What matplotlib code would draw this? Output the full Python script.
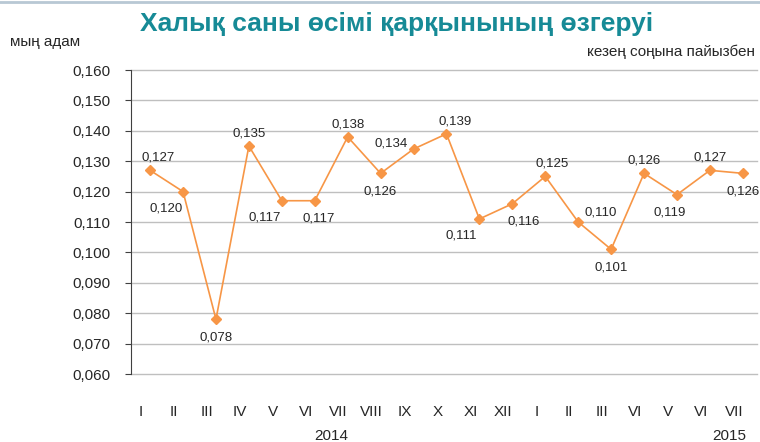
import matplotlib
matplotlib.use("Agg")
import matplotlib.pyplot as plt
import matplotlib.transforms as mtrans
from matplotlib.ticker import MultipleLocator, FuncFormatter

plt.rcParams['font.family'] = ['Liberation Sans', 'DejaVu Sans']

# data
months = ['I', 'II', 'III', 'IV', 'V', 'VI', 'VII', 'VIII', 'IX', 'X', 'XI', 'XII',
          'I', 'II', 'III', 'VI', 'V', 'VI', 'VII']
values = [0.127, 0.120, 0.078, 0.135, 0.117, 0.117, 0.138, 0.126, 0.134, 0.139,
          0.111, 0.116, 0.125, 0.110, 0.101, 0.126, 0.119, 0.127, 0.126]
years = ['2014', '2015']
# where each data label sits: (dx, dy) in points
label_pos = [(6, 9), (-12, -12), (0, -13), (0, 9), (-12, -12), (3, -13), (0, 9),
             (0, -13), (-16, 4), (6, 9), (-13, -12), (8, -13), (5, 9), (16, 7),
             (0, -13), (0, 9), (-5, -13), (0, 9), (0, -13)]

orange = '#f79646'
teal = '#168a96'

fig = plt.figure(figsize=(7.6, 4.42), dpi=100)
ax = fig.add_axes([131 / 760, 1 - 374 / 442, (757 - 131) / 760, (374 - 70) / 442])

x = list(range(len(values)))
ax.plot(x, values, color=orange, lw=1.2, marker='D', ms=5.5, mec=orange, mfc=orange, zorder=3)

for i, v in enumerate(values):
    dx, dy = label_pos[i]
    ax.annotate(f'{v:.3f}'.replace('.', ','), (i, v), xytext=(dx, dy),
                textcoords='offset points', ha='center', va='center',
                fontsize=9.5, color='#262626')

ax.set_ylim(0.060, 0.160)
ax.set_xlim(-0.58, len(values) - 1 + 0.43)
ax.yaxis.set_major_locator(MultipleLocator(0.01))
ax.yaxis.set_major_formatter(FuncFormatter(lambda v, p: f'{v:.3f}'.replace('.', ',')))
ax.grid(axis='y', color='#bfbfbf', lw=1)
for gl in ax.get_ygridlines():
    gl.set_clip_on(False)
ax.set_axisbelow(True)

for s in ['top', 'right', 'bottom']:
    ax.spines[s].set_visible(False)
ax.spines['left'].set_color('#404040')
ax.tick_params(axis='y', length=4, color='#404040', labelsize=11, labelcolor='#262626', pad=11)
ax.tick_params(axis='x', length=0, labelsize=11, labelcolor='#262626', pad=22)
ax.set_xticks(x)
ax.set_xticklabels(months)
shift = mtrans.ScaledTranslation(-9 / 100, 0, fig.dpi_scale_trans)
for lbl in ax.get_xticklabels():
    lbl.set_transform(lbl.get_transform() + shift)

# year labels
ax.text(5.5, -0.205, years[0], transform=ax.get_xaxis_transform(), ha='center',
        va='center', fontsize=11, color='#262626')
ax.text(17.6, -0.205, years[1], transform=ax.get_xaxis_transform(), ha='center',
        va='center', fontsize=11, color='#262626')

fig.text(140 / 760, 1 - 24 / 442, 'Халық саны өсімі қарқынының өзгеруі', fontsize=19,
         fontweight='bold', color=teal, ha='left', va='center')
fig.text(10 / 760, 1 - 42 / 442, 'мың адам', fontsize=11, color='#262626', ha='left', va='center')
fig.text(755 / 760, 1 - 52 / 442, 'кезең соңына пайызбен', fontsize=11, color='#262626',
         ha='right', va='center')
fig.add_artist(plt.Line2D([0, 1], [1 - 2 / 442] * 2, color='#b8c8d4', lw=2))

fig.savefig('out.png', dpi=100)
